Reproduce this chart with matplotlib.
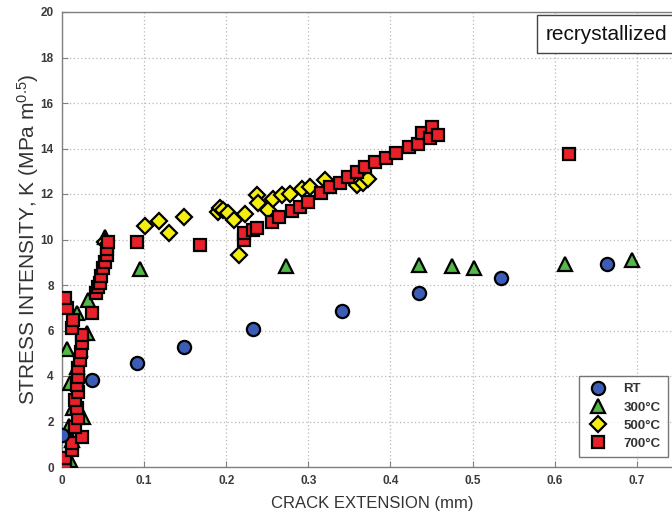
import matplotlib
matplotlib.use("Agg")
import matplotlib.pyplot as plt
from matplotlib.lines import Line2D

plt.rcParams["font.family"] = ["Liberation Sans", "DejaVu Sans"]
plt.rcParams["mathtext.fontset"] = "custom"
plt.rcParams["mathtext.rm"] = "Liberation Sans"
plt.rcParams["mathtext.it"] = "Liberation Sans:italic"
plt.rcParams["mathtext.bf"] = "Liberation Sans:bold"

# ---- data ----
rt_x = [0.000, 0.036, 0.091, 0.148, 0.232, 0.341, 0.435, 0.535, 0.664]
rt_y = [1.40, 3.82, 4.57, 5.27, 6.07, 6.86, 7.63, 8.30, 8.92]

t300_x = [0.004, 0.010, 0.012, 0.008, 0.014, 0.026, 0.010, 0.018, 0.022, 0.006,
          0.030, 0.018, 0.032, 0.052, 0.095, 0.273, 0.435, 0.475, 0.502, 0.613, 0.694]
t300_y = [0.00, 0.30, 1.20, 1.80, 2.60, 2.20, 3.70, 4.40, 5.20, 5.20,
          5.90, 6.77, 7.34, 10.10, 8.70, 8.84, 8.88, 8.84, 8.75, 8.92, 9.10]

t500_x = [0.052, 0.101, 0.118, 0.130, 0.148, 0.190, 0.193, 0.196, 0.202, 0.210,
          0.215, 0.223, 0.237, 0.239, 0.251, 0.257, 0.268, 0.278, 0.292, 0.302,
          0.320, 0.359, 0.366, 0.373, 0.445]
t500_y = [9.90, 10.60, 10.80, 10.30, 11.00, 11.20, 11.40, 11.30, 11.15, 10.86,
          9.30, 11.10, 11.95, 11.60, 11.30, 11.80, 11.95, 12.00, 12.20, 12.30,
          12.60, 12.40, 12.50, 12.65, 14.60]

t700_x = [0.004, 0.004, 0.012, 0.012, 0.024, 0.016, 0.020, 0.018, 0.016, 0.020,
          0.018, 0.020, 0.020, 0.022, 0.023, 0.024, 0.024, 0.012, 0.013, 0.006,
          0.004, 0.036, 0.042, 0.044, 0.046, 0.048, 0.050, 0.052, 0.055, 0.055,
          0.056, 0.091, 0.168, 0.222, 0.222, 0.233, 0.238, 0.256, 0.264, 0.280,
          0.290, 0.300, 0.315, 0.326, 0.339, 0.348, 0.359, 0.369, 0.381, 0.395,
          0.407, 0.423, 0.433, 0.438, 0.448, 0.450, 0.458, 0.618]
t700_y = [0.17, 0.40, 0.75, 1.05, 1.30, 1.76, 2.15, 2.60, 2.94, 3.30,
          3.60, 3.96, 4.35, 4.70, 5.06, 5.45, 5.80, 6.10, 6.46, 7.00,
          7.43, 6.77, 7.65, 7.90, 8.10, 8.40, 8.75, 9.00, 9.30, 9.60,
          9.90, 9.90, 9.75, 9.98, 10.30, 10.40, 10.50, 10.77, 11.00, 11.25,
          11.43, 11.65, 12.04, 12.30, 12.50, 12.75, 12.97, 13.20, 13.40, 13.60,
          13.80, 14.07, 14.20, 14.70, 14.45, 14.95, 14.60, 13.76]

legend_labels = ["RT", "300°C", "500°C", "700°C"]
x_ticks = [0, 0.1, 0.2, 0.3, 0.4, 0.5, 0.6, 0.7]
x_tick_labels = ["0", "0.1", "0.2", "0.3", "0.4", "0.5", "0.6", "0.7"]
y_ticks = [0, 2, 4, 6, 8, 10, 12, 14, 16, 18, 20]

# ---- figure ----
W, H = 672, 516
fig = plt.figure(figsize=(W / 100, H / 100), dpi=100)
ax = fig.add_axes([62 / W, (H - 467) / H, 620 / W, 455 / H])

blue = "#3c5db5"
green = "#52b848"
yellow = "#f2ee10"
red = "#e8202a"
ew = 1.6

ax.plot(t300_x, t300_y, ls="none", marker="^", ms=10, mfc=green, mec="black", mew=ew, zorder=3)
ax.plot(t500_x, t500_y, ls="none", marker="D", ms=8, mfc=yellow, mec="black", mew=ew, zorder=4)
ax.plot(t700_x, t700_y, ls="none", marker="s", ms=8, mfc=red, mec="black", mew=ew, zorder=5)
ax.plot(rt_x, rt_y, ls="none", marker="o", ms=9.5, mfc=blue, mec="black", mew=ew, zorder=6)

ax.set_xlim(0, 0.755)
ax.set_ylim(0, 20)
ax.set_xticks(x_ticks)
ax.set_xticklabels(x_tick_labels)
ax.set_yticks(y_ticks)

ax.grid(True, ls=(0, (1, 2)), color="#b8b8b8", lw=0.9)
ax.set_axisbelow(True)
for s in ax.spines.values():
    s.set_color("#808080")
    s.set_linewidth(1.0)
ax.tick_params(direction="in", length=4, color="#808080", labelsize=8.5,
               labelcolor="#3a3a3a", pad=6)
for lab in ax.get_xticklabels() + ax.get_yticklabels():
    lab.set_fontweight("bold")

ax.set_xlabel("CRACK EXTENSION (mm)", fontsize=12, color="#333333")
ax.xaxis.set_label_coords(0.5, -(508 - 467) / 455)
ax.xaxis.label.set_va("baseline")
ax.set_ylabel("STRESS INTENSITY, K (MPa m$^{0.5}$)", fontsize=15, color="#333333")
ax.yaxis.set_label_coords(-(62 - 41) / 620, 0.5)

handles = [
    Line2D([], [], ls="none", marker="o", ms=9.5, mfc=blue, mec="black", mew=ew),
    Line2D([], [], ls="none", marker="^", ms=10, mfc=green, mec="black", mew=ew),
    Line2D([], [], ls="none", marker="D", ms=8, mfc=yellow, mec="black", mew=ew),
    Line2D([], [], ls="none", marker="s", ms=8, mfc=red, mec="black", mew=ew),
]
leg = fig.legend(handles, legend_labels, loc="upper left",
                 bbox_to_anchor=(579 / W, 1 - 376 / H), bbox_transform=fig.transFigure,
                 borderaxespad=0,
                 fontsize=9.5, frameon=True, fancybox=False, edgecolor="#555555",
                 handletextpad=1.0, borderpad=0.55, labelspacing=0.45, handlelength=1.8)
leg.get_frame().set_linewidth(1.0)
for t in leg.get_texts():
    t.set_fontweight("bold")
    t.set_color("#333333")

fig.text(546 / W, 1 - 34 / H, "recrystallized", fontsize=15, color="#111111",
         va="center", ha="left",
         bbox=dict(boxstyle="square,pad=0.45", fc="white", ec="#444444", lw=1.0))

fig.savefig("out.png", dpi=100)
